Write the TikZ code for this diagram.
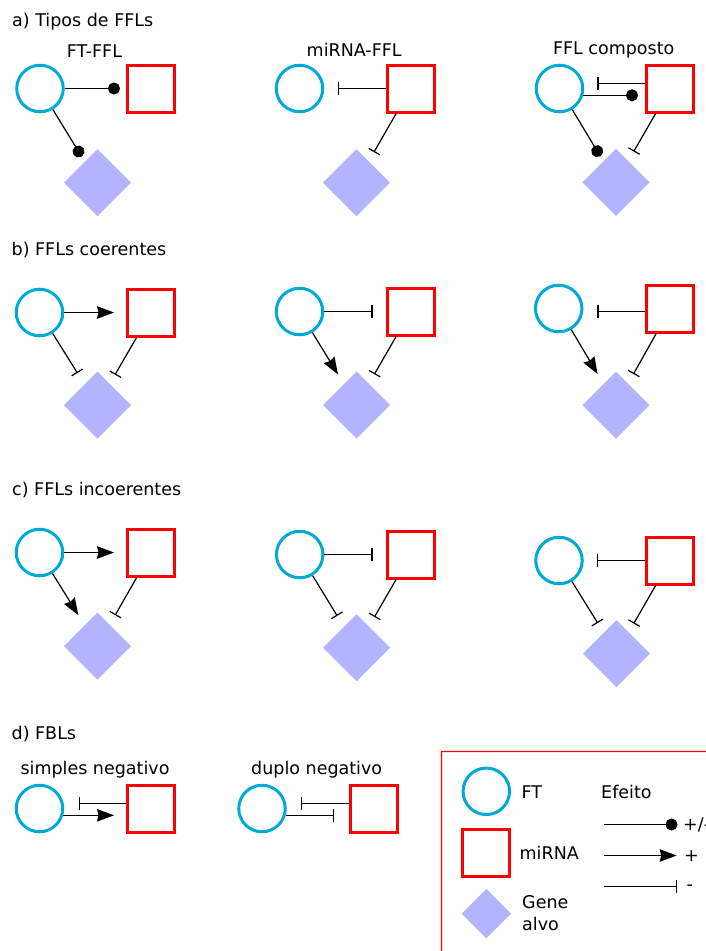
\documentclass[tikz,border=0pt]{standalone}
\usepackage{fontspec}
\setmainfont{DejaVu Sans}
\usetikzlibrary{arrows.meta,shapes.geometric}
\definecolor{ftblue}{RGB}{0,170,212}
\definecolor{alvofill}{RGB}{179,179,255}
\definecolor{mirred}{RGB}{255,0,0}

\tikzset{
  ft/.style={circle, draw=ftblue, line width=3pt, minimum size=46.5pt, inner sep=0pt, outer sep=1.5pt},
  mir/.style={rectangle, draw=mirred, line width=3pt, minimum size=47pt, inner sep=0pt, outer sep=1.5pt},
  alvo/.style={diamond, fill=alvofill, minimum width=67pt, minimum height=67pt, inner sep=0pt, outer sep=0pt},
  lbl/.style={inner sep=0pt, anchor=base},
  lblw/.style={inner sep=0pt, anchor=base west},
  link/.style={line width=1.2pt, black},
  act/.style={link, -{Stealth[length=17pt, width=12.5pt, inset=1.5pt]}, shorten >=12pt},
  inh/.style={link, -{Bar[width=13pt]}, shorten >=13pt},
  dual/.style={link, -{Circle[length=12pt]}, shorten >=6pt},
  framebox/.style={fill=mirred, even odd rule},
}

\begin{document}
\begin{tikzpicture}[x=1pt, y=-1pt, every node/.append style={font=\fontsize{17.5}{21}\selectfont}]
\useasboundingbox (0,0) rectangle (706,951);

% ---------- a) Tipos de FFLs ----------
\node[lblw] (ta) at (12,26) {a) Tipos de FFLs};
\node[lbl] (la1) at (94.5,57) {FT-FFL};
\node[lbl] (la2) at (354.2,56.7) {miRNA-FFL};
\node[lbl] (la3) at (613.7,54) {FFL composto};

\node[ft]  (a1c) at (40,88.5) {};
\node[mir] (a1s) at (151,88.5) {};
\node[alvo] (a1d) at (97.5,182.5) {};
\draw[dual] (a1c) -- (a1s);
\draw[dual] (a1c) -- (a1d);

\node[ft]  (a2c) at (299.5,88.5) {};
\node[mir] (a2s) at (410.5,88.5) {};
\node[alvo] (a2d) at (356.5,182.5) {};
\draw[inh, shorten >=13.5pt] (a2s) -- (a2c);
\draw[inh, shorten >=10.5pt] (a2s) -- (a2d);

\node[ft]  (a3c) at (559.5,88.5) {};
\node[mir] (a3s) at (670,88.5) {};
\node[alvo] (a3d) at (616,182.3) {};
\coordinate (a3p) at (a3c.-16.4);
\draw[inh, shorten >=13.2pt] ([yshift=5pt]a3s.west) -- ([yshift=5pt]a3c.east);
\draw[dual, shorten >=7pt] (a3p) -- (a3p -| a3s.west);
\draw[dual] (a3c) -- (a3d);
\draw[inh, shorten >=11pt] (a3s) -- (a3d);

% ---------- b) FFLs coerentes ----------
\node[lblw] (tb) at (11.5,255) {b) FFLs coerentes};

\node[ft]  (b1c) at (39.5,312.5) {};
\node[mir] (b1s) at (151,312.5) {};
\node[alvo] (b1d) at (97.5,405) {};
\draw[act] (b1c) -- (b1s);
\draw[inh, shorten >=13.5pt] (b1c) -- (b1d);
\draw[inh, shorten >=10.5pt] (b1s) -- (b1d);

\node[ft]  (b2c) at (299.5,311.5) {};
\node[mir] (b2s) at (410.5,311.5) {};
\node[alvo] (b2d) at (356.7,405) {};
\draw[inh] (b2c) -- (b2s);
\draw[act, shorten >=11.5pt] (b2c) -- (b2d);
\draw[inh, shorten >=11pt] (b2s) -- (b2d);

\node[ft]  (b3c) at (558.7,308.5) {};
\node[mir] (b3s) at (670.3,308.5) {};
\node[alvo] (b3d) at (616,405) {};
\draw[inh, shorten >=14pt] ([yshift=-3pt]b3s.west) -- ([yshift=-3pt]b3c.east);
\draw[act, shorten >=11.5pt] (b3c) -- (b3d);
\draw[inh, shorten >=11pt] (b3s) -- (b3d);

% ---------- c) FFLs incoerentes ----------
\node[lblw] (tc) at (12,495) {c) FFLs incoerentes};

\node[ft]  (c1c) at (39.5,552.5) {};
\node[mir] (c1s) at (151,552.5) {};
\node[alvo] (c1d) at (97.5,646) {};
\draw[act] (c1c) -- (c1s);
\draw[act] (c1c) -- (c1d);
\draw[inh, shorten >=11pt] (c1s) -- (c1d);

\node[ft]  (c2c) at (299.7,554.5) {};
\node[mir] (c2s) at (410.5,554.5) {};
\node[alvo] (c2d) at (356.7,647.7) {};
\draw[inh] (c2c) -- (c2s);
\draw[inh] (c2c) -- (c2d);
\draw[inh, shorten >=11pt] (c2s) -- (c2d);

\node[ft]  (c3c) at (559,560.5) {};
\node[mir] (c3s) at (670,560.5) {};
\node[alvo] (c3d) at (616.5,653.5) {};
\draw[inh] (c3s) -- (c3c);
\draw[inh, shorten >=11.5pt] (c3c) -- (c3d);
\draw[inh, shorten >=10pt] (c3s) -- (c3d);

% ---------- d) FBLs ----------
\node[lblw] (td) at (11.5,739) {d) FBLs};
\node[lbl] (ld1) at (95,774.5) {simples negativo};
\node[lbl] (ld2) at (316.7,774.5) {duplo negativo};

\node[ft]  (d1c) at (39.5,808.5) {};
\node[mir] (d1s) at (151,808.5) {};
\coordinate (d1p) at (d1c.-16.4);
\draw[inh, shorten >=14.5pt] ([yshift=5pt]d1s.west) -- ([yshift=5pt]d1c.east);
\draw[act] (d1p) -- (d1p -| d1s.west);

\node[ft]  (d2c) at (262,808.5) {};
\node[mir] (d2s) at (373.7,808.5) {};
\coordinate (d2p) at (d2c.-16.4);
\draw[inh, shorten >=14pt] ([yshift=5pt]d2s.west) -- ([yshift=5pt]d2c.east);
\draw[inh, shorten >=14.4pt] (d2p) -- (d2p -| d2s.west);

% ---------- legend ----------
% frame drawn as a thin filled ring
\fill[framebox] (440.8,750.8) rectangle (730,980) (442.2,752.2) rectangle (728.6,978.6);
\node[ft]  (lc) at (486.3,791.3) {};
\node[mir] (ls) at (486.3,852.5) {};
\node[alvo, minimum width=49.4pt, minimum height=49.4pt] (ld) at (486.3,913.7) {};
\node[lblw] (lct) at (521.5,798.3) {FT};
\node[lblw] (lst) at (519.5,859.3) {miRNA};
\node[lblw] (ldt1) at (522,908.3) {Gene};
\node[lblw] (ldt2) at (522,930) {alvo};
\node[lblw] (lef) at (601,798.3) {Efeito};

\coordinate (e1a) at (604.3,824.5);
\coordinate (e1b) at (677.5,824.5);
\coordinate (e2a) at (604.3,855.5);
\coordinate (e2b) at (676.7,855.5);
\coordinate (e3a) at (604.3,886.5);
\coordinate (e3b) at (677.4,886.5);
\draw[dual, shorten >=0pt] (e1a) -- (e1b);
\draw[act, shorten >=0pt] (e2a) -- (e2b);
\draw[inh, shorten >=0pt] (e3a) -- (e3b);
\node[lblw] (e1t) at (683,830.3) {+/-};
\node[lblw] (e2t) at (684,861.3) {+};
\node[lblw] (e3t) at (686.5,890.5) {-};
\end{tikzpicture}
\end{document}
